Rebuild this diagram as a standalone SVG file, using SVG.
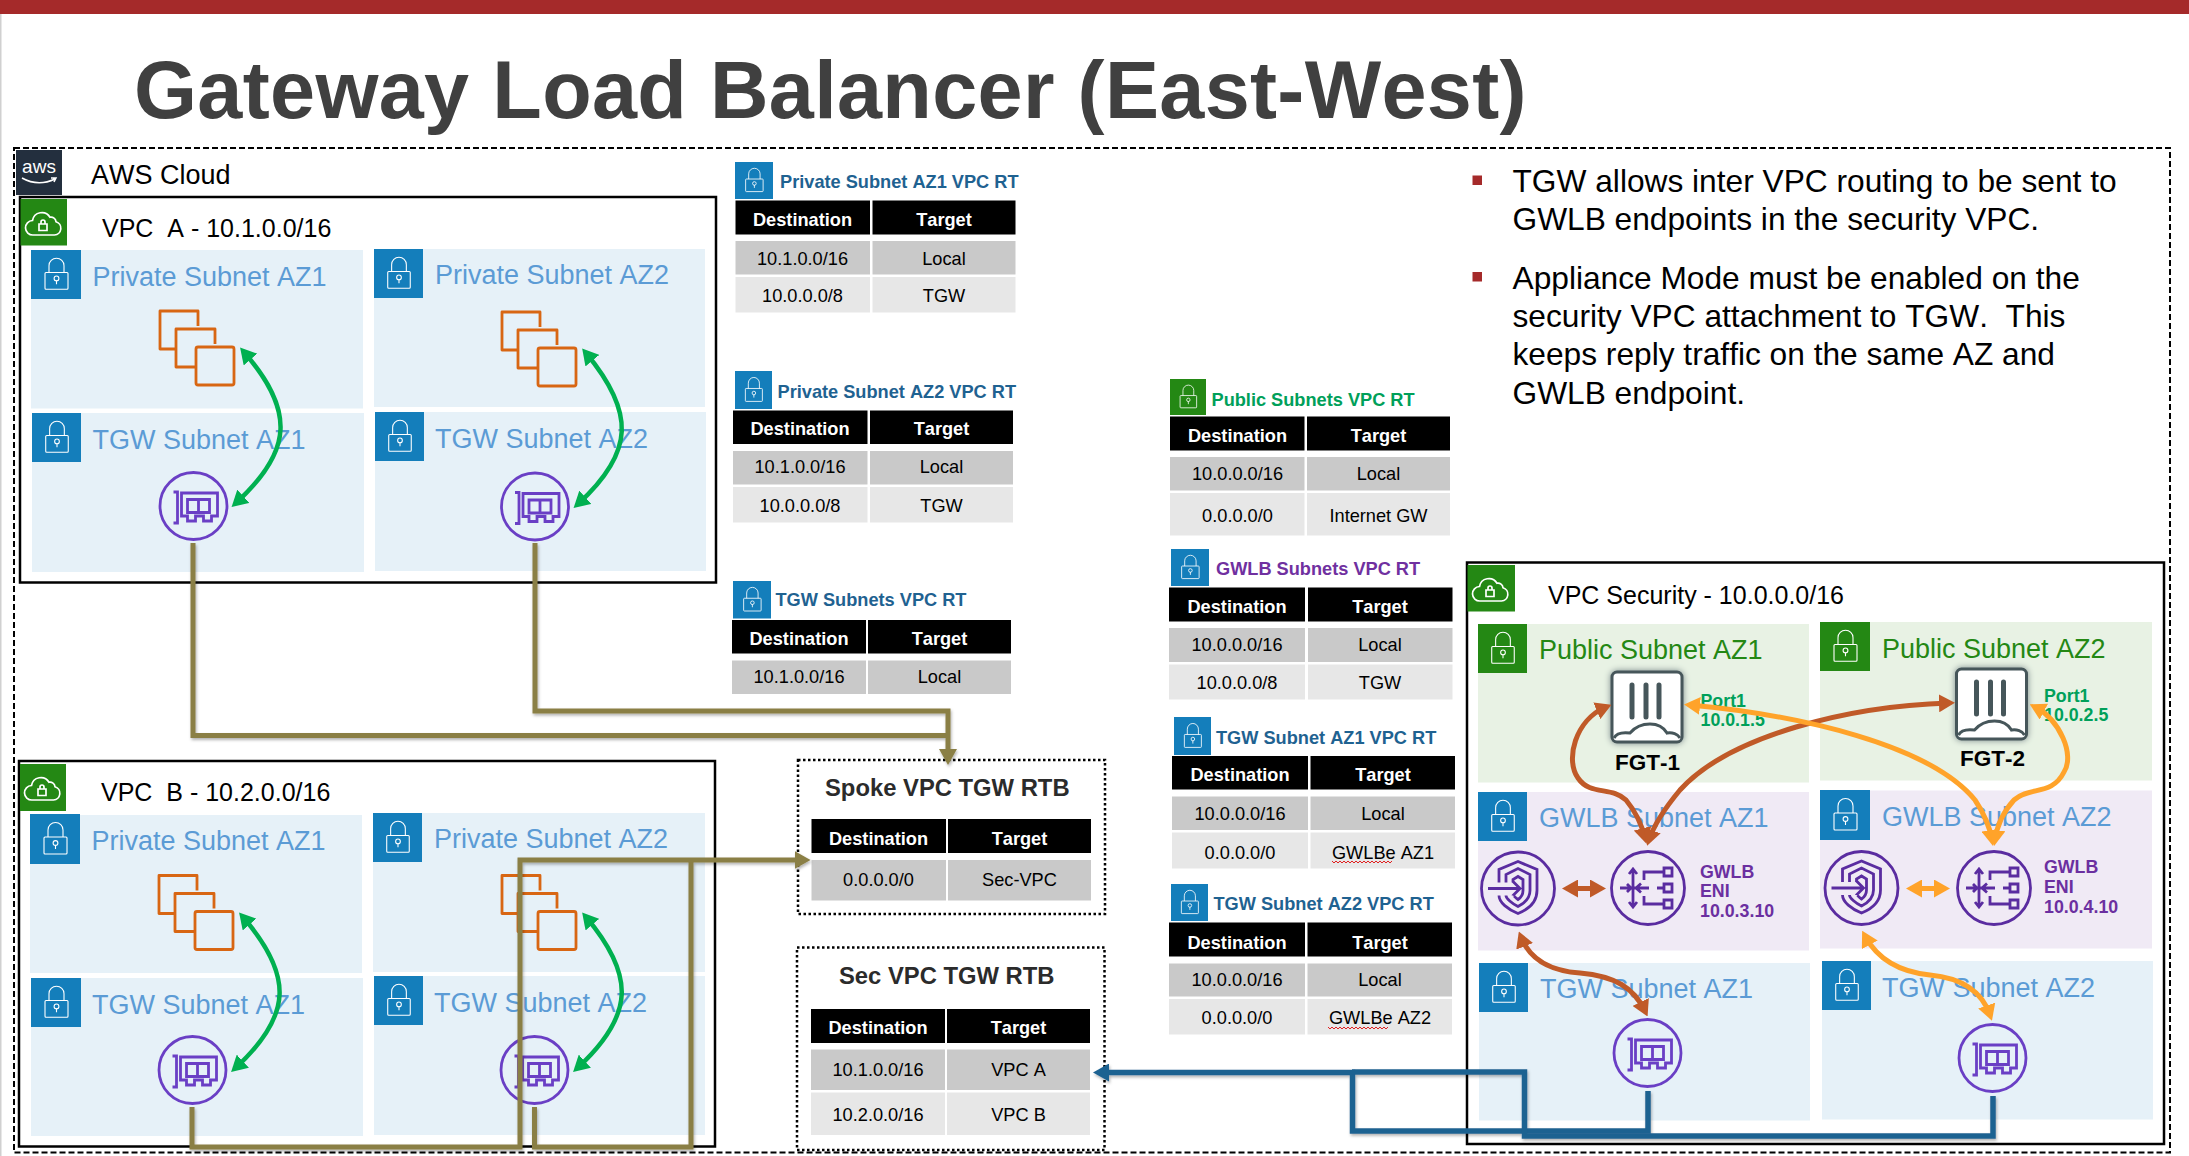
<svg xmlns="http://www.w3.org/2000/svg" width="2189" height="1156" viewBox="0 0 2189 1156">
<style>
text{font-family:"Liberation Sans",Arial,sans-serif;white-space:pre;font-kerning:none}
.title{font-size:81px;font-weight:700;fill:#404040;letter-spacing:.33px}
.bul{font-size:31.7px;fill:#000;transform:translateY(1px)}
.vpc{font-size:25px;fill:#000}
.sn{font-size:27px;fill:#5b9bd5;transform:translateY(1px)}
.sng{font-size:27px;fill:#248814;transform:translateY(1px)}
.blue{fill:#147ebb}.green{fill:#248814}
.pv{fill:#e6f1f8}.pu{fill:#e8f2e4}.gw{fill:#f0eaf5}
.box{fill:#fff;stroke:#000;stroke-width:2.5}
.h{fill:#000}.r1{fill:#c9c9c9}.r2{fill:#e7e7e7}
.th{font-size:18.200px;font-weight:700;fill:#fff;text-anchor:middle}
.td{font-size:18.200px;fill:#000;text-anchor:middle}
.rt{font-size:18.200px;font-weight:700;fill:#1f6291}
.rb{font-size:23.800px;font-weight:700;fill:#2b2b2b;transform:translateY(.5px)}
.dot{fill:#fff;stroke:#000;stroke-width:2.5;stroke-dasharray:2.5 2.5}
.fgt{font-size:22.500px;font-weight:700;fill:#000}
.port{font-size:17.800px;font-weight:700;fill:#00a05a}
.eni{font-size:17.800px;font-weight:700;fill:#6b2fa0}
.ec{fill:none;stroke:#d86613;stroke-width:2.8;stroke-linejoin:round}
.nic{fill:none;stroke:#6a3fc5;stroke-width:2.8}
.sec{fill:none;stroke:#5a2ca0;stroke-width:2.8}
.lk{fill:none;stroke:#fff;stroke-width:1.1}
.arc{fill:none;stroke-width:5}
.ol{fill:none;stroke:#8a7f44;stroke-width:5;stroke-linejoin:miter}
.bl{fill:none;stroke:#1f6291;stroke-width:5.500;stroke-linejoin:miter}
.sq{fill:none;stroke:#e02020;stroke-width:1}
</style>
<defs>
<symbol id="lock" viewBox="0 0 50 50" preserveAspectRatio="none"><rect class="lk" x="14" y="23" width="23" height="17" rx="1"/><path class="lk" d="M18 23V16a7.5 7.5 0 0 1 15 0V23M25.5 31v4"/><circle class="lk" cx="25.5" cy="29" r="2.4"/></symbol>
<g id="cloud"><path class="lk" style="stroke-width:1.700" d="M12.5 36H34a6.800 6.800 0 0 0 1.500-13.300 5 5 0 0 0-6-4.500A9.500 9.500 0 0 0 12 21.500a7.200 7.200 0 0 0 .5 14.500ZM18.500 25h8v6.500h-8ZM20.500 25v-2a2 2 0 0 1 4 0v2"/></g>
<g id="ec2"><path class="ec" d="M38 15V0H0V38H16"/><path class="ec" d="M55 33V18H16V56H36"/><rect class="ec" x="36" y="36" width="38" height="38" rx="2"/></g>
<g id="nic"><circle class="nic" r="33.500"/><path class="nic" d="M-20-14h4v31h-4M-12-13H24V10H18V15H10V10H2V15H-6V10H-12ZM-6-6.500H16V6.500H-6ZM5-6.500V6.500"/></g>
<g id="ep"><circle class="sec" r="36.500"/><path class="sec" d="M-19-6V-19L0-27L19-19V2C19 14 10 21 0 25C-10 21-19 14-19 7M-12-6V-14L0-20L12-14V2C12 10 6 15 0 18C-6 15-12 10-12 7M-5-6V-9L0-12L5-9V2C5 6 3 9 0 11C-3 9-5 6-5 7M-30 0H2M-5-7L2 0L-5 7"/></g>
<g id="lb"><circle class="sec" r="36.500"/><path class="sec" d="M16-16H-4V-8M16 16H-4V8M9 0H16M1 0H-14M-7-4.500L-12 0L-7 4.500M-28 0H-17M-21-4L-17 0L-21 4M-15-19V19M-19-14L-15-19L-11-14M-19 14L-15 19L-11 14"/><path class="sec" d="M16-20h8v8h-8ZM16-4h8v8h-8ZM16 12h8v8h-8Z"/></g>
<g id="fg"><rect x="0" y="0" width="70" height="70" rx="5" fill="#fff" stroke="#46565a" stroke-width="3" style="filter:drop-shadow(0 0 3px #7b8a8c)"/><path d="M20 13V45M34 13V45M47 13V45" fill="none" stroke="#46565a" stroke-width="5" stroke-linecap="round"/><path d="M2 66C4 62 10 60 18 61C24 54 32 52 38 52C46 52 52 56 55 61C60 60 66 62 68 66" fill="none" stroke="#46565a" stroke-width="3"/></g>
<marker id="mG" markerUnits="userSpaceOnUse" markerWidth="16" markerHeight="18" viewBox="0 0 16 18" refX="10" refY="9" orient="auto-start-reverse"><path d="M0 0L16 9L0 18Z" fill="#00b050"/></marker>
<marker id="mB" markerUnits="userSpaceOnUse" markerWidth="16" markerHeight="18" viewBox="0 0 16 18" refX="10" refY="9" orient="auto-start-reverse"><path d="M0 0L16 9L0 18Z" fill="#c05a28"/></marker>
<marker id="mO" markerUnits="userSpaceOnUse" markerWidth="16" markerHeight="18" viewBox="0 0 16 18" refX="10" refY="9" orient="auto-start-reverse"><path d="M0 0L16 9L0 18Z" fill="#ffa32a"/></marker>
<marker id="mL" markerUnits="userSpaceOnUse" markerWidth="16" markerHeight="18" viewBox="0 0 16 18" refX="10" refY="9" orient="auto"><path d="M0 0L16 9L0 18Z" fill="#8a7f44"/></marker>
<marker id="mU" markerUnits="userSpaceOnUse" markerWidth="16" markerHeight="18" viewBox="0 0 16 18" refX="10" refY="9" orient="auto"><path d="M0 0L16 9L0 18Z" fill="#1f6291"/></marker>
<filter id="sh" x="-5%" y="-5%" width="110%" height="110%"><feDropShadow dx="1" dy="2" stdDeviation="1.500" flood-opacity=".3"/></filter>
</defs>
<rect width="2189" height="1156" fill="#fff"/>
<rect x="0" y="0" width="1.500" height="1156" fill="#d0d0d0"/>
<rect x="0" y="0" width="2189" height="14" fill="#a52a2a"/>
<text class="title" x="134" y="117.500">Gateway Load Balancer (East-West)</text>

<g id="aws-cloud">
<rect x="14" y="148" width="2156" height="1004.500" fill="none" stroke="#000" stroke-width="2" stroke-dasharray="6 3"/>
<rect x="16" y="150" width="46" height="45" fill="#232f3e"/>
<text x="39" y="173" font-size="19" fill="#fff" text-anchor="middle">aws</text>
<path d="M22 178Q38 187 55 179M51 178l5 0-2 4" fill="none" stroke="#fff" stroke-width="1.500"/>
<text x="91" y="184" font-size="27" fill="#000">AWS Cloud</text>
</g>

<g id="bullets">
<rect x="1472.500" y="175.500" width="9.500" height="9.500" fill="#a52a2a"/>
<rect x="1472.500" y="272" width="9.500" height="9.500" fill="#a52a2a"/>
<text class="bul" x="1512.500" y="190.500">TGW allows inter VPC routing to be sent to</text>
<text class="bul" x="1512.500" y="228.500">GWLB endpoints in the security VPC.</text>
<text class="bul" x="1512.500" y="287.500">Appliance Mode must be enabled on the</text>
<text class="bul" x="1512.500" y="326">security VPC attachment to TGW.  This</text>
<text class="bul" x="1512.500" y="364">keeps reply traffic on the same AZ and</text>
<text class="bul" x="1512.500" y="403">GWLB endpoint.</text>
</g>

<g id="vpc-a">
<rect class="box" x="20" y="197" width="696" height="385.500"/>
<rect class="green" x="20.500" y="199" width="46.500" height="46.500"/><use href="#cloud" x="20.500" y="199"/>
<text class="vpc" x="102" y="236.500">VPC  A - 10.1.0.0/16</text>
</g>
<g id="a-private-az1"><rect class="pv" x="31" y="250" width="332" height="158.500"/><rect class="blue" x="31" y="250" width="50" height="49"/><use href="#lock" x="31" y="250" width="50" height="49"/><text class="sn" x="92.500" y="285">Private Subnet AZ1</text><use href="#ec2" x="160" y="311"/></g>
<g id="a-private-az2"><rect class="pv" x="374" y="249" width="331" height="158"/><rect class="blue" x="374" y="249" width="49" height="49"/><use href="#lock" x="374" y="249" width="49" height="49"/><text class="sn" x="435" y="283">Private Subnet AZ2</text><use href="#ec2" x="502" y="312"/></g>
<g id="a-tgw-az1"><rect class="pv" x="32" y="413" width="332" height="159"/><rect class="blue" x="32" y="413" width="49" height="49"/><use href="#lock" x="32" y="413" width="49" height="49"/><text class="sn" x="92.500" y="448">TGW Subnet AZ1</text><use href="#nic" x="193.500" y="506"/></g>
<g id="a-tgw-az2"><rect class="pv" x="375" y="412" width="331" height="159"/><rect class="blue" x="375" y="412" width="49" height="49"/><use href="#lock" x="375" y="412" width="49" height="49"/><text class="sn" x="435" y="447">TGW Subnet AZ2</text><use href="#nic" x="535" y="506.500"/></g>

<g id="vpc-b">
<rect class="box" x="19" y="761" width="696" height="385.500"/>
<rect class="green" x="20" y="764" width="46" height="47"/><use href="#cloud" x="19.500" y="764"/>
<text class="vpc" x="101" y="800.500">VPC  B - 10.2.0.0/16</text>
</g>
<g id="b-private-az1"><rect class="pv" x="30" y="815" width="332" height="158"/><rect class="blue" x="30" y="814" width="50" height="50"/><use href="#lock" x="30" y="814" width="50" height="50"/><text class="sn" x="91.500" y="849">Private Subnet AZ1</text><use href="#ec2" x="159" y="875.500"/></g>
<g id="b-private-az2"><rect class="pv" x="373" y="813" width="332" height="159"/><rect class="blue" x="373" y="813" width="49" height="49"/><use href="#lock" x="373" y="813" width="49" height="49"/><text class="sn" x="434" y="847">Private Subnet AZ2</text><use href="#ec2" x="502" y="875.500"/></g>
<g id="b-tgw-az1"><rect class="pv" x="31" y="978" width="332" height="158"/><rect class="blue" x="31" y="978" width="50" height="49"/><use href="#lock" x="31" y="978" width="50" height="49"/><text class="sn" x="92" y="1012.500">TGW Subnet AZ1</text><use href="#nic" x="192.500" y="1070"/></g>
<g id="b-tgw-az2"><rect class="pv" x="374" y="976" width="331" height="159"/><rect class="blue" x="374" y="976" width="49" height="49"/><use href="#lock" x="374" y="976" width="49" height="49"/><text class="sn" x="434" y="1011">TGW Subnet AZ2</text><use href="#nic" x="534.500" y="1070"/></g>

<g id="vpc-security">
<rect class="box" x="1467" y="562.500" width="697" height="581.500"/>
<rect class="green" x="1467.500" y="565" width="47.500" height="46.500"/><use href="#cloud" x="1467.500" y="565"/>
<text class="vpc" x="1548" y="603.500">VPC Security - 10.0.0.0/16</text>
</g>
<g id="sec-public-az1"><rect class="pu" x="1478" y="624" width="331" height="158.500"/><rect class="green" x="1478" y="624" width="49" height="49"/><use href="#lock" x="1478" y="624" width="49" height="49"/><text class="sng" x="1539" y="658">Public Subnet AZ1</text></g>
<g id="sec-public-az2"><rect class="pu" x="1820" y="622" width="332" height="158.500"/><rect class="green" x="1820" y="622" width="50" height="49"/><use href="#lock" x="1820" y="622" width="50" height="49"/><text class="sng" x="1882" y="657">Public Subnet AZ2</text></g>
<g id="sec-gwlb-az1"><rect class="gw" x="1478" y="792" width="331" height="158.500"/><rect class="blue" x="1478" y="792" width="49" height="49"/><use href="#lock" x="1478" y="792" width="49" height="49"/><text class="sn" x="1539" y="826">GWLB Subnet AZ1</text></g>
<g id="sec-gwlb-az2"><rect class="gw" x="1820" y="790.500" width="332" height="158"/><rect class="blue" x="1820" y="790" width="50" height="50"/><use href="#lock" x="1820" y="790" width="50" height="50"/><text class="sn" x="1882" y="825">GWLB Subnet AZ2</text></g>
<g id="sec-tgw-az1"><rect class="pv" x="1479" y="963" width="331" height="157.500"/><rect class="blue" x="1479" y="963" width="49" height="49"/><use href="#lock" x="1479" y="963" width="49" height="49"/><text class="sn" x="1540" y="997">TGW Subnet AZ1</text><use href="#nic" x="1647.500" y="1053"/></g>
<g id="sec-tgw-az2"><rect class="pv" x="1822" y="961" width="331" height="158.500"/><rect class="blue" x="1822" y="961" width="49" height="49"/><use href="#lock" x="1822" y="961" width="49" height="49"/><text class="sn" x="1882" y="996">TGW Subnet AZ2</text><use href="#nic" x="1992.500" y="1058"/></g>

<g id="fgt-1"><use href="#fg" x="1612" y="672"/><text class="fgt" x="1615" y="770">FGT-1</text><text class="port" x="1700.500" y="706.500">Port1</text><text class="port" x="1700.500" y="726">10.0.1.5</text></g>
<g id="fgt-2"><use href="#fg" x="1956.500" y="669"/><text class="fgt" x="1960" y="766">FGT-2</text><text class="port" x="2044" y="701.500">Port1</text><text class="port" x="2044" y="720.500">10.0.2.5</text></g>
<g id="gwlbe-az1"><use href="#ep" x="1518" y="888.500"/></g>
<g id="gwlb-az1"><use href="#lb" x="1648" y="888"/><text class="eni" x="1700" y="877.500">GWLB</text><text class="eni" x="1700" y="896.500">ENI</text><text class="eni" x="1700" y="916.500">10.0.3.10</text></g>
<g id="gwlbe-az2"><use href="#ep" x="1861.500" y="888"/></g>
<g id="gwlb-az2"><use href="#lb" x="1994" y="888"/><text class="eni" x="2044" y="873">GWLB</text><text class="eni" x="2044" y="892.500">ENI</text><text class="eni" x="2044" y="912.500">10.0.4.10</text></g>

<g id="rt-private-az1">
<rect class="blue" x="735" y="162" width="38" height="37"/><use href="#lock" x="735" y="162" width="38" height="37"/>
<text class="rt" x="780" y="188">Private Subnet AZ1 VPC RT</text>
<rect class="h" x="735.500" y="200.500" width="134.500" height="34"/><rect class="h" x="872.500" y="200.500" width="143" height="34"/>
<rect class="r1" x="735.500" y="241" width="134.500" height="33.500"/><rect class="r1" x="872.500" y="241" width="143" height="33.500"/>
<rect class="r2" x="735.500" y="277" width="134.500" height="35.500"/><rect class="r2" x="872.500" y="277" width="143" height="35.500"/>
<text class="th" x="802.500" y="226">Destination</text><text class="th" x="944" y="226">Target</text>
<text class="td" x="802.500" y="264.500">10.1.0.0/16</text><text class="td" x="944" y="264.500">Local</text>
<text class="td" x="802.500" y="302">10.0.0.0/8</text><text class="td" x="944" y="302">TGW</text>
</g>
<g id="rt-private-az2">
<rect class="blue" x="735" y="371" width="37" height="38"/><use href="#lock" x="735" y="371" width="37" height="38"/>
<text class="rt" x="777.500" y="398">Private Subnet AZ2 VPC RT</text>
<rect class="h" x="733" y="410.500" width="134.500" height="33.500"/><rect class="h" x="870" y="410.500" width="143" height="33.500"/>
<rect class="r1" x="733" y="451" width="134.500" height="33.500"/><rect class="r1" x="870" y="451" width="143" height="33.500"/>
<rect class="r2" x="733" y="487" width="134.500" height="35.500"/><rect class="r2" x="870" y="487" width="143" height="35.500"/>
<text class="th" x="800" y="435">Destination</text><text class="th" x="941.500" y="435">Target</text>
<text class="td" x="800" y="473">10.1.0.0/16</text><text class="td" x="941.500" y="473">Local</text>
<text class="td" x="800" y="512">10.0.0.0/8</text><text class="td" x="941.500" y="512">TGW</text>
</g>
<g id="rt-tgw">
<rect class="blue" x="733" y="581" width="38" height="37.500"/><use href="#lock" x="733" y="581" width="38" height="37.500"/>
<text class="rt" x="775.500" y="606">TGW Subnets VPC RT</text>
<rect class="h" x="732" y="620" width="134" height="33.500"/><rect class="h" x="868" y="620" width="143" height="33.500"/>
<rect class="r1" x="732" y="660.500" width="134" height="33.500"/><rect class="r1" x="868" y="660.500" width="143" height="33.500"/>
<text class="th" x="799" y="645">Destination</text><text class="th" x="939.500" y="645">Target</text>
<text class="td" x="799" y="683">10.1.0.0/16</text><text class="td" x="939.500" y="683">Local</text>
</g>
<g id="rt-public">
<rect class="green" x="1170" y="379" width="36" height="36"/><use href="#lock" x="1170" y="379" width="36" height="36"/>
<text class="rt" style="fill:#00a05a" x="1211.500" y="406">Public Subnets VPC RT</text>
<rect class="h" x="1170" y="416.500" width="134.500" height="34"/><rect class="h" x="1307" y="416.500" width="143" height="34"/>
<rect class="r1" x="1170" y="457" width="134.500" height="33.500"/><rect class="r1" x="1307" y="457" width="143" height="33.500"/>
<rect class="r2" x="1170" y="493" width="134.500" height="42.500"/><rect class="r2" x="1307" y="493" width="143" height="42.500"/>
<text class="th" x="1237.500" y="442">Destination</text><text class="th" x="1378.500" y="442">Target</text>
<text class="td" x="1237.500" y="480">10.0.0.0/16</text><text class="td" x="1378.500" y="480">Local</text>
<text class="td" x="1237.500" y="522">0.0.0.0/0</text><text class="td" x="1378.500" y="522">Internet GW</text>
</g>
<g id="rt-gwlb">
<rect class="blue" x="1171" y="549" width="38" height="37"/><use href="#lock" x="1171" y="549" width="38" height="37"/>
<text class="rt" style="fill:#7030a0" x="1216" y="575">GWLB Subnets VPC RT</text>
<rect class="h" x="1169" y="587.500" width="136" height="34"/><rect class="h" x="1308" y="587.500" width="144.500" height="34"/>
<rect class="r1" x="1169" y="628" width="136" height="34"/><rect class="r1" x="1308" y="628" width="144.500" height="34"/>
<rect class="r2" x="1169" y="664.500" width="136" height="35"/><rect class="r2" x="1308" y="664.500" width="144.500" height="35"/>
<text class="th" x="1237" y="613">Destination</text><text class="th" x="1380" y="613">Target</text>
<text class="td" x="1237" y="651">10.0.0.0/16</text><text class="td" x="1380" y="651">Local</text>
<text class="td" x="1237" y="689">10.0.0.0/8</text><text class="td" x="1380" y="689">TGW</text>
</g>
<g id="rt-tgw-az1">
<rect class="blue" x="1174" y="717" width="37" height="38"/><use href="#lock" x="1174" y="717" width="37" height="38"/>
<text class="rt" x="1216" y="744">TGW Subnet AZ1 VPC RT</text>
<rect class="h" x="1172" y="756" width="136" height="33.500"/><rect class="h" x="1310.500" y="756" width="144.500" height="33.500"/>
<rect class="r1" x="1172" y="796.500" width="136" height="33.500"/><rect class="r1" x="1310.500" y="796.500" width="144.500" height="33.500"/>
<rect class="r2" x="1172" y="832.500" width="136" height="36"/><rect class="r2" x="1310.500" y="832.500" width="144.500" height="36"/>
<text class="th" x="1240" y="781">Destination</text><text class="th" x="1383" y="781">Target</text>
<text class="td" x="1240" y="819.500">10.0.0.0/16</text><text class="td" x="1383" y="819.500">Local</text>
<text class="td" x="1240" y="858.500">0.0.0.0/0</text><text class="td" x="1383" y="858.500">GWLBe AZ1</text>
<path class="sq" d="M1332 861l2 2 2-2 2 2 2-2 2 2 2-2 2 2 2-2 2 2 2-2 2 2 2-2 2 2 2-2 2 2 2-2 2 2 2-2 2 2 2-2 2 2 2-2 2 2 2-2 2 2 2-2 2 2 2-2 2 2 2-2"/>
</g>
<g id="rt-tgw-az2">
<rect class="blue" x="1171" y="884" width="37" height="37"/><use href="#lock" x="1171" y="884" width="37" height="37"/>
<text class="rt" x="1213.500" y="910">TGW Subnet AZ2 VPC RT</text>
<rect class="h" x="1169" y="922.500" width="136" height="34"/><rect class="h" x="1307.500" y="922.500" width="144.500" height="34"/>
<rect class="r1" x="1169" y="963.500" width="136" height="33"/><rect class="r1" x="1307.500" y="963.500" width="144.500" height="33"/>
<rect class="r2" x="1169" y="999" width="136" height="35.500"/><rect class="r2" x="1307.500" y="999" width="144.500" height="35.500"/>
<text class="th" x="1237" y="948.500">Destination</text><text class="th" x="1380" y="948.500">Target</text>
<text class="td" x="1237" y="986">10.0.0.0/16</text><text class="td" x="1380" y="986">Local</text>
<text class="td" x="1237" y="1024">0.0.0.0/0</text><text class="td" x="1380" y="1024">GWLBe AZ2</text>
<path class="sq" d="M1328 1027l2 2 2-2 2 2 2-2 2 2 2-2 2 2 2-2 2 2 2-2 2 2 2-2 2 2 2-2 2 2 2-2 2 2 2-2 2 2 2-2 2 2 2-2 2 2 2-2 2 2 2-2 2 2 2-2 2 2 2-2"/>
</g>
<g id="spoke-rtb">
<rect class="dot" x="798" y="760" width="307" height="154"/>
<text class="rb" x="825" y="795">Spoke VPC TGW RTB</text>
<rect class="h" x="811.500" y="819" width="134.500" height="34"/><rect class="h" x="948" y="819" width="143" height="34"/>
<rect class="r1" x="811.500" y="860" width="134.500" height="40.500"/><rect class="r1" x="948" y="860" width="143" height="40.500"/>
<text class="th" x="878.500" y="845">Destination</text><text class="th" x="1019.500" y="845">Target</text>
<text class="td" x="878.500" y="886">0.0.0.0/0</text><text class="td" x="1019.500" y="886">Sec-VPC</text>
</g>
<g id="sec-rtb">
<rect class="dot" x="797" y="947.500" width="307.500" height="202.500"/>
<text class="rb" x="839" y="983">Sec VPC TGW RTB</text>
<rect class="h" x="811" y="1009" width="134" height="34"/><rect class="h" x="947" y="1009" width="143" height="34"/>
<rect class="r1" x="811" y="1049.500" width="134" height="40.500"/><rect class="r1" x="947" y="1049.500" width="143" height="40.500"/>
<rect class="r2" x="811" y="1092.500" width="134" height="42.500"/><rect class="r2" x="947" y="1092.500" width="143" height="42.500"/>
<text class="th" x="878" y="1034">Destination</text><text class="th" x="1018.500" y="1034">Target</text>
<text class="td" x="878" y="1076">10.1.0.0/16</text><text class="td" x="1018.500" y="1076">VPC A</text>
<text class="td" x="878" y="1121">10.2.0.0/16</text><text class="td" x="1018.500" y="1121">VPC B</text>
</g>

<g id="connectors">
<g stroke="#00b050" stroke-width="4.500" fill="none" marker-start="url(#mG)" marker-end="url(#mG)">
<path d="M244 352C294 410 294 450 236 503"/>
<path d="M586 353C635 412 635 452 578 504"/>
<path d="M243 917C293 975 293 1015 235.500 1068"/>
<path d="M586 917C635 975 635 1015 577.500 1068"/>
</g>
<g filter="url(#sh)">
<path class="ol" d="M193 543V735.500H948"/>
<path class="ol" d="M535 543V711H948V759" marker-end="url(#mL)"/>
<path class="ol" d="M192 1107V1147H520V860H804.500" marker-end="url(#mL)"/>
<path class="ol" d="M534.500 1107V1147H691V862"/>
<path class="bl" d="M1648 1091V1131H1352.500V1072.500H1099" marker-end="url(#mU)"/>
<path class="bl" d="M1993 1096V1136H1524.500V1072H1352"/>
</g>
<g class="arc" stroke="#c05a28" marker-start="url(#mB)" marker-end="url(#mB)">
<path class="arc" stroke="#c05a28" d="M1606 707C1575 720 1565 760 1578 778C1590 796 1612 786 1626 800C1636 812 1642 826 1645 838"/>
<path class="arc" stroke="#c05a28" d="M1949 703C1850 706 1730 735 1680 790C1665 808 1654 825 1649 840"/>
<path class="arc" stroke="#c05a28" d="M1568 888.500H1600"/>
<path class="arc" stroke="#c05a28" d="M1521 937C1530 960 1550 971 1580 973C1615 976 1634 988 1645 1011"/>
</g>
<g class="arc" stroke="#ffa32a" marker-start="url(#mO)" marker-end="url(#mO)">
<path class="arc" stroke="#ffa32a" d="M1690 705C1800 715 1930 745 1975 800C1985 815 1990 828 1992 840"/>
<path class="arc" stroke="#ffa32a" d="M2035 707C2060 720 2075 755 2064 772C2052 796 2030 786 2014 800C2003 812 1997 826 1995 840"/>
<path class="arc" stroke="#ffa32a" d="M1912 888.500H1944"/>
<path class="arc" stroke="#ffa32a" d="M1865 936C1878 960 1900 972 1930 975C1962 978 1982 992 1990 1015"/>
</g>
</g>
</svg>
